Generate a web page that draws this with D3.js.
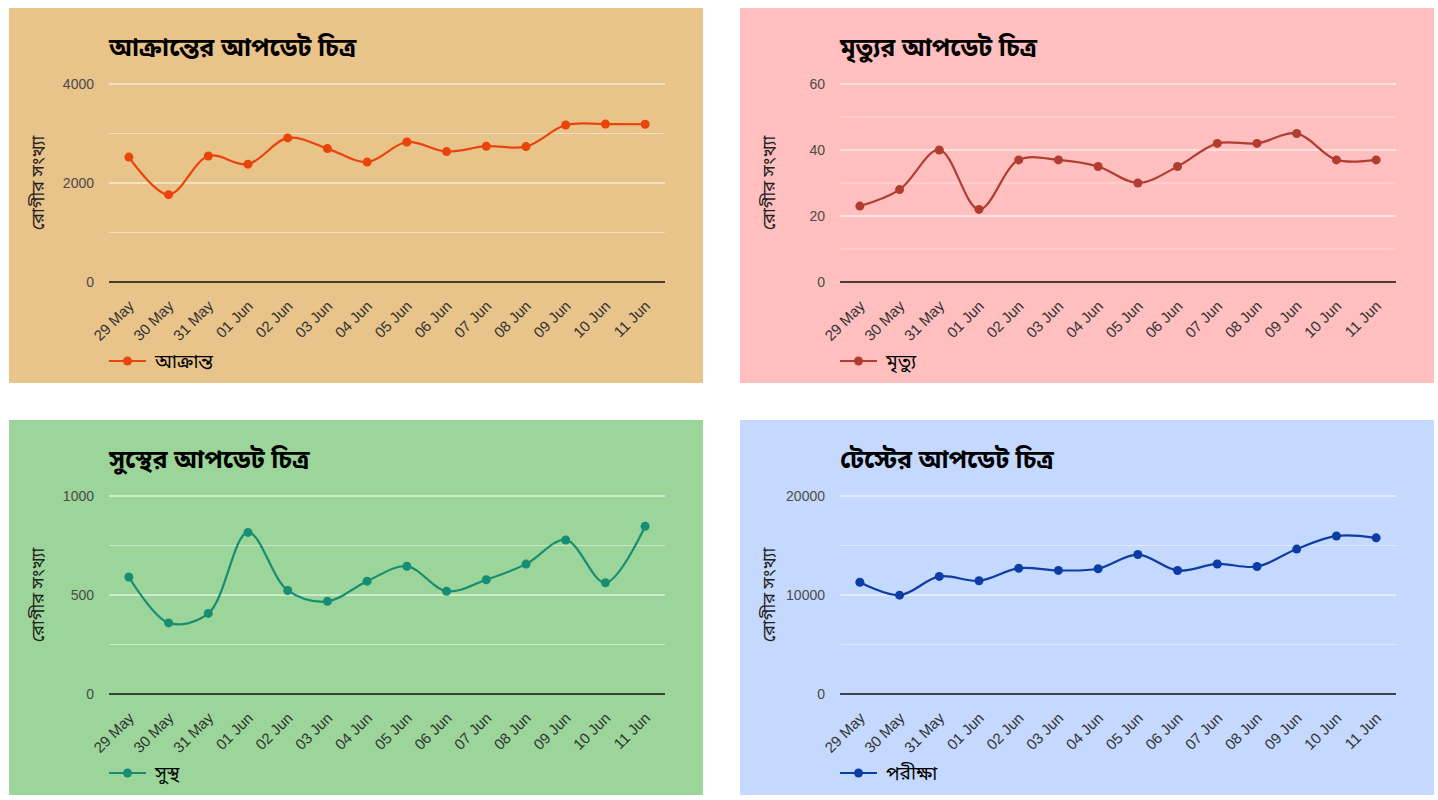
<!DOCTYPE html>
<html lang="bn">
<head>
<meta charset="UTF-8">
<title>আপডেট চিত্র</title>
<style>
  body { margin: 0; background: #fff; }
  svg { display: block; }
</style>
</head>
<body>
<script src="https://d3js.org/d3.v7.min.js"></script>
<script>

// dates on the x axis
const dates = ['29 May', '30 May', '31 May', '01 Jun', '02 Jun', '03 Jun', '04 Jun',
  '05 Jun', '06 Jun', '07 Jun', '08 Jun', '09 Jun', '10 Jun', '11 Jun'];

// series values
const attacked = [2523, 1764, 2545, 2381, 2911, 2695, 2423, 2828, 2635, 2743, 2735, 3171, 3190, 3187];
const deaths = [23, 28, 40, 22, 37, 37, 35, 30, 35, 42, 42, 45, 37, 37];
const recovered = [591, 359, 407, 816, 523, 468, 570, 645, 519, 577, 656, 778, 562, 847];
const tests = [11289, 9987, 11876, 11439, 12704, 12486, 12655, 14088, 12469, 13136, 12876, 14637, 15964, 15772];

// y ticks (labelled) per chart
const attackedTicks = [0, 2000, 4000];
const deathsTicks = [0, 20, 40, 60];
const recoveredTicks = [0, 500, 1000];
const testsTicks = [0, 10000, 20000];

const W = 1438, H = 800;
const panelW = 694, panelH = 375;

const svg = d3.select('body').append('svg')
  .attr('width', W)
  .attr('height', H);

const panels = [
  { x: 9, y: 8, title: 'আক্রান্তের আপডেট চিত্র', label: 'আক্রান্ত', data: attacked, ticks: attackedTicks, bg: '#e8c38a', color: '#e8440c' },
  { x: 740, y: 8, title: 'মৃত্যুর আপডেট চিত্র', label: 'মৃত্যু', data: deaths, ticks: deathsTicks, bg: '#ffbfbf', color: '#b13c30' },
  { x: 9, y: 420, title: 'সুস্থের আপডেট চিত্র', label: 'সুস্থ', data: recovered, ticks: recoveredTicks, bg: '#9bd59a', color: '#178e74' },
  { x: 740, y: 420, title: 'টেস্টের আপডেট চিত্র', label: 'পরীক্ষা', data: tests, ticks: testsTicks, bg: '#c5d8fd', color: '#0c3da4' }
];

const bnFont = "'Noto Sans Bengali', 'Noto Serif Bengali', 'Lohit Bengali', 'Noto Sans', sans-serif";
const latFont = "Arial, 'Liberation Sans', sans-serif";

panels.forEach(p => drawPanel(p));

function drawPanel(p) {
  const g = svg.append('g').attr('transform', `translate(${p.x},${p.y})`);

  g.append('rect')
    .attr('width', panelW)
    .attr('height', panelH)
    .attr('fill', p.bg);

  // chart area inside the panel
  const left = 100, right = 656, top = 76, bottom = 274;

  const x = d3.scalePoint()
    .domain(dates)
    .range([left, right])
    .padding(0.5);

  const yMax = p.ticks[p.ticks.length - 1];
  const y = d3.scaleLinear()
    .domain([0, yMax])
    .range([bottom, top]);

  // minor gridlines halfway between labelled ticks
  const minor = [];
  for (let i = 0; i < p.ticks.length - 1; i++) minor.push((p.ticks[i] + p.ticks[i + 1]) / 2);

  g.selectAll('.minor')
    .data(minor)
    .join('line')
    .attr('x1', left).attr('x2', right)
    .attr('y1', d => y(d)).attr('y2', d => y(d))
    .attr('stroke', '#fff')
    .attr('stroke-opacity', 0.45)
    .attr('stroke-width', 1);

  g.selectAll('.major')
    .data(p.ticks.filter(d => d !== 0))
    .join('line')
    .attr('x1', left).attr('x2', right)
    .attr('y1', d => y(d)).attr('y2', d => y(d))
    .attr('stroke', '#fff')
    .attr('stroke-width', 1);

  // y tick labels
  g.selectAll('.ylab')
    .data(p.ticks)
    .join('text')
    .attr('x', left - 15)
    .attr('y', d => y(d))
    .attr('dy', '0.35em')
    .attr('text-anchor', 'end')
    .attr('font-family', latFont)
    .attr('font-size', 14)
    .attr('fill', '#4a4a4a')
    .text(d => d);

  // baseline
  g.append('line')
    .attr('x1', left).attr('x2', right)
    .attr('y1', y(0)).attr('y2', y(0))
    .attr('stroke', '#111')
    .attr('stroke-width', 1.3);

  // x labels, slanted
  g.selectAll('.xlab')
    .data(dates)
    .join('text')
    .attr('text-anchor', 'end')
    .attr('font-family', latFont)
    .attr('font-size', 15)
    .attr('fill', '#333')
    .attr('transform', d => `translate(${x(d) + 6},${bottom + 25}) rotate(-45)`)
    .text(d => d);

  // title
  g.append('text')
    .attr('x', left)
    .attr('y', 48)
    .attr('font-family', bnFont)
    .attr('font-size', 25)
    .attr('font-weight', 'bold')
    .attr('fill', '#000')
    .text(p.title);

  // y axis title
  g.append('text')
    .attr('transform', `translate(${29},${(top + bottom) / 2}) rotate(-90)`)
    .attr('text-anchor', 'middle')
    .attr('dy', '0.35em')
    .attr('font-family', bnFont)
    .attr('font-size', 18)
    .attr('fill', '#222')
    .text('রোগীর সংখ্যা');

  // the line
  const line = d3.line()
    .x((d, i) => x(dates[i]))
    .y(d => y(d))
    .curve(d3.curveCatmullRom.alpha(0.5));

  g.append('path')
    .datum(p.data)
    .attr('d', line)
    .attr('fill', 'none')
    .attr('stroke', p.color)
    .attr('stroke-width', 2.2);

  g.selectAll('.dot')
    .data(p.data)
    .join('circle')
    .attr('cx', (d, i) => x(dates[i]))
    .attr('cy', d => y(d))
    .attr('r', 4.5)
    .attr('fill', p.color);

  // legend
  const ly = 353;
  g.append('line')
    .attr('x1', left).attr('x2', left + 37)
    .attr('y1', ly).attr('y2', ly)
    .attr('stroke', p.color)
    .attr('stroke-width', 2.2);
  g.append('circle')
    .attr('cx', left + 18.5)
    .attr('cy', ly)
    .attr('r', 4.5)
    .attr('fill', p.color);
  g.append('text')
    .attr('x', left + 46)
    .attr('y', ly)
    .attr('dy', '0.35em')
    .attr('font-family', bnFont)
    .attr('font-size', 19)
    .attr('fill', '#000')
    .text(p.label);
}

</script>
</body>
</html>
